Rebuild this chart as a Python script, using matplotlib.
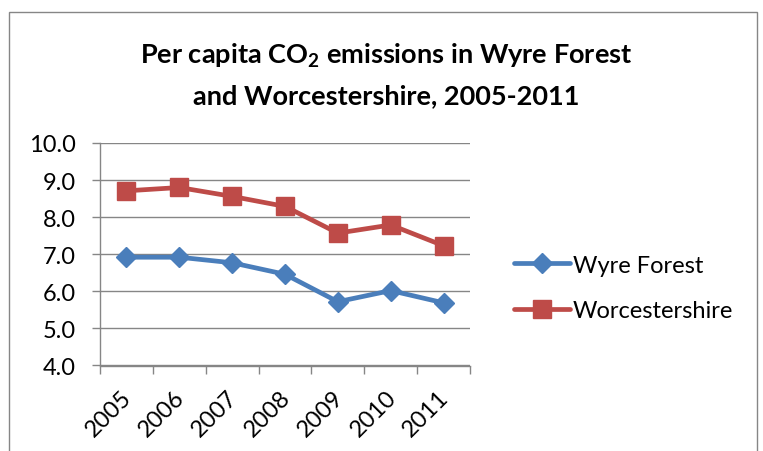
import matplotlib
matplotlib.use("Agg")
import matplotlib.pyplot as plt
from matplotlib.patches import Rectangle
import matplotlib.transforms as mtransforms

years = ["2005", "2006", "2007", "2008", "2009", "2010", "2011"]
wyre_forest = [6.92, 6.92, 6.77, 6.46, 5.72, 6.02, 5.69]
worcestershire = [8.71, 8.80, 8.56, 8.29, 7.57, 7.79, 7.23]
y_ticks = [4.0, 5.0, 6.0, 7.0, 8.0, 9.0, 10.0]

FONT = "Lato"
plt.rcParams['font.family'] = [FONT, 'DejaVu Sans']
plt.rcParams['mathtext.fontset'] = 'custom'
plt.rcParams['mathtext.rm'] = FONT
plt.rcParams['mathtext.bf'] = FONT + ':bold'

W, H = 763, 452
fig = plt.figure(figsize=(W / 100, H / 100), dpi=100)
fig.patch.set_facecolor('white')

# chart frame
fig.patches.append(Rectangle((9 / W, -0.1), (757 - 9) / W, (H - 13) / H + 0.1,
                             transform=fig.transFigure, fill=False,
                             edgecolor='#868686', lw=1.0))

ax = fig.add_axes([100 / W, 1 - 366.5 / H, 370 / W, (366.5 - 144) / H])
x = list(range(len(years)))
grid_c = '#868686'

ax.plot(x, wyre_forest, color='#4A7EBB', lw=3.4, marker='D', markersize=10,
        label='Wyre Forest', solid_capstyle='round', solid_joinstyle='round')
ax.plot(x, worcestershire, color='#BE4B48', lw=3.4, marker='s', markersize=13,
        label='Worcestershire', solid_capstyle='round', solid_joinstyle='round')

ax.set_xlim(-0.5, len(years) - 0.5)
ax.set_ylim(4.0, 10.0)
ax.set_yticks(y_ticks)
ax.set_yticklabels([f"{v:.1f}" for v in y_ticks], fontsize=17)
ax.yaxis.grid(True, color=grid_c, lw=1.0)
ax.set_axisbelow(True)

ax.set_xticks([i - 0.5 for i in range(len(years) + 1)])
ax.set_xticklabels([])
ax.set_xticks(x, minor=True)
ax.set_xticklabels(years, minor=True, rotation=45, ha='right', va='center',
                   rotation_mode='anchor', fontsize=17)
ax.tick_params(axis='x', which='minor', length=0, pad=20)
ax.tick_params(axis='x', which='major', length=5.5, color=grid_c, width=1)
ax.tick_params(axis='y', length=5.5, color=grid_c, width=1, pad=12)
shift = mtransforms.ScaledTranslation(2 / 100, 0, fig.dpi_scale_trans)
for lab in ax.get_xticklabels(minor=True):
    lab.set_transform(lab.get_transform() + shift)

for s in ['top', 'right']:
    ax.spines[s].set_visible(False)
for s in ['left', 'bottom']:
    ax.spines[s].set_color(grid_c)
    ax.spines[s].set_linewidth(1.0)

leg = fig.legend(loc='center left', bbox_to_anchor=(502 / W, 1 - 289 / H),
                 frameon=False, fontsize=17, handlelength=2.4,
                 handletextpad=0.1, labelspacing=1.05, borderpad=0)

fig.text(386 / W, 1 - 56 / H, r"Per capita CO$_\mathbf{2}$ emissions in Wyre Forest",
         ha='center', va='center', fontsize=19.5, fontweight='bold')
fig.text(386 / W, 1 - 96 / H, "and Worcestershire, 2005-2011",
         ha='center', va='center', fontsize=19.5, fontweight='bold')

fig.savefig("out.png", dpi=100, facecolor='white')
